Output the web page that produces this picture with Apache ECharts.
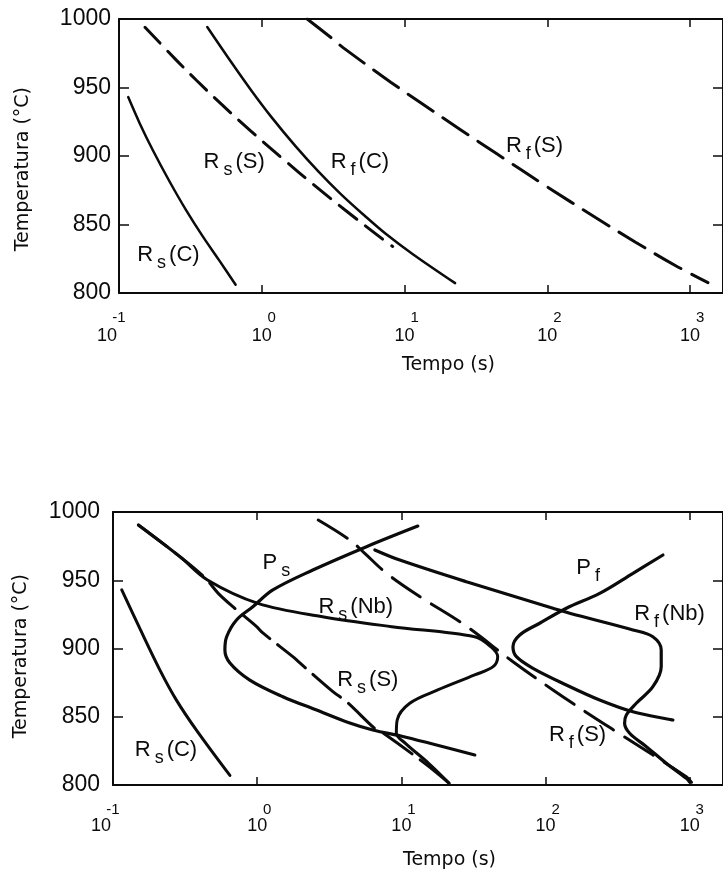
<!DOCTYPE html>
<html>
<head>
<meta charset="utf-8">
<script src="https://cdn.jsdelivr.net/npm/echarts@6/dist/echarts.min.js"></script>
<style>
  html, body { margin: 0; padding: 0; background: #fff; }
  #chart { width: 723px; height: 875px; }
</style>
</head>
<body>
<div id="chart"></div>
<script>
// Axis ticks
const tempTicks = [800, 850, 900, 950, 1000];
const decadeExponents = [-1, 0, 1, 2, 3];
const timeMin = 0.1;
const timeMax = 1700;

// Upper panel: recrystallization curves, [tempo (s), temperatura (°C)]
const rsC_top = [[0.116, 943], [0.140, 923.6], [0.173, 904], [0.226, 881.4], [0.295, 860.5], [0.385, 841.5], [0.502, 824], [0.656, 806]];
const rsS_top = [[0.152, 994], [0.252, 970], [0.347, 955.5], [0.519, 938], [0.839, 918.2], [1.355, 899.3], [2.41, 877.4], [3.83, 860.6], [7.62, 836.5], [8.26, 834]];
const rfC_top = [[0.415, 994.2], [0.619, 967.7], [0.852, 947.3], [1.173, 928.2], [1.722, 907.2], [2.488, 888.8], [3.594, 872], [5.19, 856.9], [7.38, 843.2], [11.37, 828.5], [22.6, 807.2]];
const rfS_top = [[2.08, 1000], [3.08, 986.1], [3.71, 979.1], [8.0, 953.9], [12.9, 939], [24.5, 919.4], [44.3, 901.6], [98.4, 877.9], [219, 854.9], [415, 837.1], [787, 820.1], [1334, 807.6]];

// Lower panel: Nb steel with precipitation start/finish
const rsC_bot = [[0.115, 943], [0.154, 914.3], [0.212, 884], [0.276, 862], [0.380, 840], [0.647, 807]];
const rsS_bot = [[0.150, 990.5], [0.291, 967.3], [0.437, 951.5], [0.537, 940.4], [0.679, 930.6], [0.991, 916], [1.094, 911.4], [1.766, 894], [1.977, 889.4], [3.35, 868.4], [4.169, 861], [6.714, 840.3], [7.278, 839], [14.45, 816], [21.48, 801.2]];
const rsNb_bot = [[0.150, 990.5], [0.291, 967.3], [0.452, 950.2], [1.012, 933.1], [2.838, 923.3], [8.570, 916], [32.21, 908.6], [41.69, 901.3], [46.56, 894], [43.25, 886.7], [32.21, 880.6], [17.87, 869.6], [11.43, 859.9], [9.354, 847.6], [9.226, 837.9], [10.67, 830.5], [15.45, 815.9], [21.48, 801.2]];
const ps_bot = [[13.0, 989.7], [5.728, 974.6], [2.432, 957.5], [1.285, 942.9], [0.933, 930.6], [0.719, 920.9], [0.614, 908.6], [0.597, 898.9], [0.647, 889.4], [0.889, 876.9], [1.507, 864.7], [2.582, 854.9], [4.385, 845.4], [6.339, 840.3], [10.57, 835.2], [32.29, 822]];
const rfS_bot = [[2.649, 994.1], [4.385, 979.5], [5.572, 969.7], [7.889, 955.1], [13.43, 938], [27.48, 917.2], [59.43, 890.3], [112.5, 869.6], [213.3, 850], [309.7, 839], [946.2, 806.1], [1028, 802]];
const rfNb_bot = [[6.546, 972.2], [9.750, 964.8], [28.25, 948.9], [112.5, 929.5], [146.9, 925.8], [403.6, 913.6], [554.6, 908.6], [633.9, 898.9], [633.9, 886.7], [554.6, 872], [425.6, 859.9], [363.1, 851.3], [353.2, 845.2], [382.8, 837.9], [500.0, 828.1], [687.1, 815.9], [946.2, 804.9], [997.7, 802.2]];
const pf_bot = [[651.6, 968.5], [403.6, 955.1], [237.1, 940.4], [139.3, 929.5], [91.0, 918.5], [66.2, 909.9], [59.4, 901.3], [62.8, 894], [81.8, 885.5], [139.3, 873.3], [237.1, 862.3], [403.6, 853.7], [763.8, 847.6]];

// Curve names: [main letter, subscript, suffix], anchored at [tempo, temperatura]
const topNames = [
  { text: ['R', 's', '(C)'], at: [0.222, 827.7] },
  { text: ['R', 's', '(S)'], at: [0.64, 895.6] },
  { text: ['R', 'f', '(C)'], at: [4.87, 895.6] },
  { text: ['R', 'f', '(S)'], at: [81.3, 907.3] }
];
const bottomNames = [
  { text: ['P', 's', ''], at: [1.39, 962.6] },
  { text: ['R', 's', '(Nb)'], at: [4.83, 930.4] },
  { text: ['R', 's', '(S)'], at: [5.85, 876.9] },
  { text: ['R', 's', '(C)'], at: [0.233, 825.6] },
  { text: ['P', 'f', ''], at: [202, 959] },
  { text: ['R', 'f', '(Nb)'], at: [724, 925.3] },
  { text: ['R', 'f', '(S)'], at: [166.7, 836.6] }
];

const INK = '#0b0b0b';
const SANS = '"Liberation Sans", Arial, Helvetica, sans-serif';
const NARROW = '"Liberation Sans Narrow", "Arial Narrow", "Liberation Sans", sans-serif';
const TITLE = '"DejaVu Sans", Verdana, sans-serif';

function timeAxis(gridIndex, position, withLabels, lh) {
  const ax = {
    type: 'log', logBase: 10, gridIndex, position,
    min: timeMin, max: timeMax,
    axisLine: { show: true, onZero: false, lineStyle: { color: INK, width: 2 } },
    axisTick: { show: true, inside: true, length: 8, lineStyle: { color: INK, width: 1.5 } },
    splitLine: { show: false },
    minorTick: { show: false },
    axisLabel: { show: false }
  };
  if (withLabels) {
    ax.axisLabel = {
      show: true, margin: 16, showMaxLabel: false,
      formatter: v => {
        const lg = Math.log10(v);
        const e = Math.round(lg);
        if (Math.abs(lg - e) > 1e-6 || decadeExponents.indexOf(e) < 0) return '';
        return e < 0 ? `{en|${e}}\n{bn|10}` : `{e|${e}}\n{b|10}`;
      },
      rich: {
        e:  { fontFamily: SANS, fontSize: 15, color: INK, lineHeight: lh, padding: [0, 0, 0, 20], align: 'center' },
        b:  { fontFamily: SANS, fontSize: 18, color: INK, lineHeight: lh, align: 'center' },
        en: { fontFamily: SANS, fontSize: 15, color: INK, lineHeight: lh, align: 'center' },
        bn: { fontFamily: SANS, fontSize: 18, color: INK, lineHeight: lh, padding: [0, 24, 0, 0], align: 'center' }
      }
    };
  }
  return ax;
}

function tempAxis(gridIndex, position, withLabels, margin) {
  return {
    type: 'value', gridIndex, position,
    min: tempTicks[0], max: tempTicks[tempTicks.length - 1], interval: 50,
    axisLine: { show: true, onZero: false, lineStyle: { color: INK, width: 2 } },
    axisTick: { show: true, inside: true, length: 10, lineStyle: { color: INK, width: 1.5 } },
    splitLine: { show: false },
    axisLabel: withLabels ? {
      show: true, margin, fontFamily: NARROW, fontSize: 23, color: INK,
      formatter: v => tempTicks.indexOf(v) >= 0 ? String(v) : ''
    } : { show: false }
  };
}

function curve(data, xi, yi, dashed, width) {
  return {
    type: 'line', data, xAxisIndex: xi, yAxisIndex: yi,
    showSymbol: false, symbol: 'none', smooth: 0.35, silent: true,
    lineStyle: { color: INK, width, type: dashed || 'solid', cap: 'round' },
    z: 3
  };
}

const nameRich = {
  m: { fontFamily: SANS, fontSize: 22, color: INK },
  s: { fontFamily: SANS, fontSize: 18, color: INK, padding: [16, 3, 0, 4] }
};

function nameSeries(list, xi, yi) {
  return {
    type: 'scatter', xAxisIndex: xi, yAxisIndex: yi, symbolSize: 0, silent: true,
    itemStyle: { color: INK, opacity: 1 }, z: 5,
    data: list.map(n => ({
      value: n.at,
      label: {
        show: true, position: 'inside', align: 'center', verticalAlign: 'middle',
        color: INK, textBorderWidth: 0,
        formatter: `{m|${n.text[0]}}{s|${n.text[1]}}` + (n.text[2] ? `{m|${n.text[2]}}` : ''),
        rich: nameRich
      }
    }))
  };
}

const chart = echarts.init(document.getElementById('chart'), null, { renderer: 'canvas' });
chart.setOption({
  backgroundColor: '#fff',
  animation: false,
  grid: [
    { left: 119, top: 19, width: 609, height: 274 },
    { left: 113, top: 512, width: 611, height: 273 }
  ],
  xAxis: [
    timeAxis(0, 'bottom', true, 18),
    timeAxis(0, 'top', false),
    timeAxis(1, 'bottom', true, 17),
    timeAxis(1, 'top', false)
  ],
  yAxis: [
    tempAxis(0, 'left', true, 8),
    tempAxis(0, 'right', false),
    tempAxis(1, 'left', true, 13),
    tempAxis(1, 'right', false)
  ],
  graphic: [
    { type: 'text', left: 14, top: 87, rotation: Math.PI / 2, style: { text: 'Temperatura (°C)', font: '19px ' + TITLE, fill: INK } },
    { type: 'text', left: 12, top: 574, rotation: Math.PI / 2, style: { text: 'Temperatura (°C)', font: '19px ' + TITLE, fill: INK } },
    { type: 'text', left: 402, top: 356, style: { text: 'Tempo (s)', font: '19px ' + TITLE, fill: INK } },
    { type: 'text', left: 403, top: 851, style: { text: 'Tempo (s)', font: '19px ' + TITLE, fill: INK } }
  ],
  series: [
    curve(rsC_top, 0, 0, 'solid', 2.5),
    curve(rsS_top, 0, 0, [22, 11], 3),
    curve(rfC_top, 0, 0, 'solid', 2.5),
    curve(rfS_top, 0, 0, [30, 12], 3),
    nameSeries(topNames, 0, 0),

    curve(rsC_bot, 2, 2, 'solid', 3),
    curve(rsNb_bot, 2, 2, 'solid', 3),
    curve(rsS_bot, 2, 2, [36, 10], 3),
    curve(ps_bot, 2, 2, 'solid', 3.2),
    curve(rfS_bot, 2, 2, [34, 13], 3),
    curve(rfNb_bot, 2, 2, 'solid', 3.2),
    curve(pf_bot, 2, 2, 'solid', 3.2),
    nameSeries(bottomNames, 2, 2)
  ]
});
</script>
</body>
</html>
